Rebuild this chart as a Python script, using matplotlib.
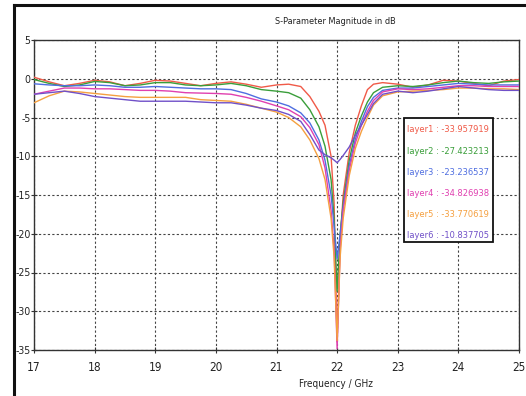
import matplotlib
matplotlib.use("Agg")
import matplotlib.pyplot as plt
from matplotlib.patches import Rectangle
from matplotlib.lines import Line2D

freq = [17.0, 17.25, 17.5, 17.75, 18.0, 18.25, 18.5, 18.75, 19.0, 19.25, 19.5, 19.75,
        20.0, 20.25, 20.5, 20.75, 21.0, 21.2, 21.4, 21.55, 21.7, 21.8, 21.9, 21.95,
        22.0, 22.05, 22.1, 22.2, 22.3, 22.4, 22.5, 22.6, 22.75, 23.0, 23.25, 23.5,
        23.75, 24.0, 24.25, 24.5, 24.75, 25.0]

layer1 = [0.2, -0.4, -0.9, -0.6, -0.2, -0.4, -0.9, -0.6, -0.2, -0.3, -0.6, -0.9,
          -0.6, -0.4, -0.7, -1.1, -0.8, -0.7, -1.0, -2.3, -4.2, -6.0, -10.0, -16.0,
          -33.957919, -21.0, -15.0, -9.5, -6.0, -3.5, -1.4, -0.7, -0.5, -0.7, -1.1, -0.8,
          -0.2, -0.3, -0.6, -0.9, -0.3, -0.1]
layer2 = [-0.1, -0.6, -1.0, -0.8, -0.35, -0.5, -0.9, -0.8, -0.5, -0.5, -0.8, -0.9,
          -0.8, -0.6, -0.9, -1.4, -1.6, -1.8, -2.5, -4.0, -6.2, -8.7, -13.0, -18.0,
          -27.423213, -20.0, -16.0, -10.5, -7.0, -4.8, -3.0, -1.8, -1.1, -0.9, -1.0, -0.8,
          -0.5, -0.3, -0.5, -0.6, -0.4, -0.3]
layer3 = [-0.65, -0.8, -0.9, -0.9, -0.8, -0.9, -1.1, -1.1, -1.0, -1.1, -1.2, -1.3,
          -1.3, -1.4, -1.9, -2.6, -3.0, -3.5, -4.4, -5.7, -7.9, -10.5, -15.0, -19.0,
          -23.236537, -20.0, -16.5, -11.2, -7.8, -5.5, -3.6, -2.4, -1.5, -1.2, -1.2, -1.0,
          -0.8, -0.6, -0.7, -0.8, -0.8, -0.8]
layer4 = [-2.0, -1.6, -1.2, -1.2, -1.3, -1.3, -1.4, -1.5, -1.5, -1.6, -1.8, -1.85,
          -1.9, -2.0, -2.4, -2.9, -3.5, -4.0, -4.9, -6.3, -8.5, -11.5, -17.0, -22.0,
          -34.826938, -22.0, -17.0, -11.8, -8.3, -6.0, -4.2, -2.8, -1.7, -1.3, -1.4, -1.3,
          -1.1, -0.9, -0.9, -1.0, -1.0, -1.0]
layer5 = [-3.1, -2.2, -1.6, -1.7, -1.9, -2.1, -2.3, -2.4, -2.4, -2.4, -2.4, -2.7,
          -2.8, -2.9, -3.3, -3.8, -4.3, -5.0, -6.2, -7.9, -10.3, -13.0, -18.0, -23.0,
          -33.770619, -23.0, -18.0, -12.5, -9.0, -6.8, -5.0, -3.4, -2.2, -1.7, -1.6, -1.5,
          -1.4, -1.2, -1.2, -1.3, -1.3, -1.4]
layer6 = [-2.0, -1.8, -1.6, -1.9, -2.3, -2.5, -2.7, -2.9, -2.9, -2.9, -2.9, -3.0,
          -3.1, -3.1, -3.4, -3.8, -4.1, -4.6, -5.5, -7.2, -9.2, -9.8, -10.2, -10.5,
          -10.837705, -10.4, -9.9, -8.8, -7.3, -6.0, -4.6, -3.2, -2.0, -1.6, -1.8, -1.6,
          -1.3, -1.0, -1.2, -1.4, -1.5, -1.5]

names = ["layer1", "layer2", "layer3", "layer4", "layer5", "layer6"]
values_at_22 = ["-33.957919", "-27.423213", "-23.236537", "-34.826938", "-33.770619", "-10.837705"]
series = [layer1, layer2, layer3, layer4, layer5, layer6]
colors = ["#f05a48", "#3a9e3a", "#4f6ee0", "#e040b0", "#f5a040", "#7050c8"]
xticks = [17, 18, 19, 20, 21, 22, 23, 24, 25]
yticks = [5, 0, -5, -10, -15, -20, -25, -30, -35]

plt.rcParams["font.family"] = ["DejaVu Sans"]
plt.rcParams["font.stretch"] = "condensed"

W, H = 526, 396
fig = plt.figure(figsize=(W / 100, H / 100), dpi=100)
fig.patch.set_facecolor("white")

def fx(px):
    return px / W

def fy(py):
    return 1 - py / H

ax = fig.add_axes([fx(34), fy(350), fx(519) - fx(34), fy(40) - fy(350)])
for s, c in zip(series, colors):
    ax.plot(freq, s, color=c, lw=1.0, zorder=3)

ax.set_xlim(17, 25)
ax.set_ylim(-35, 5)
ax.set_xticks(xticks)
ax.set_yticks(yticks)
ax.set_xticklabels([str(t) for t in xticks], fontsize=8.5, color="#222222")
ax.set_yticklabels([str(t) for t in yticks], fontsize=7.6, color="#222222")
ax.tick_params(axis="both", length=4, width=0.8, color="#333333", direction="inout")
ax.tick_params(axis="y", pad=0.3)
ax.tick_params(axis="x", pad=6)
ax.grid(True, color="#444444", linestyle=(0, (2, 2)), lw=0.8)
for sp in ax.spines.values():
    sp.set_color("#333333")
    sp.set_linewidth(1.0)

fig.text(fx(336), fy(384), "Frequency / GHz", fontsize=7.2, color="#222222",
         ha="center", va="center")
fig.text(fx(335), fy(22), "S-Parameter Magnitude in dB", fontsize=6.6,
         ha="center", va="center", color="#222222")

# outer frame
fig.add_artist(Line2D([fx(14), fx(14)], [fy(5), fy(396)], color="#111111", lw=2.2, zorder=-1))
fig.add_artist(Line2D([fx(14), fx(526)], [fy(5), fy(5)], color="#111111", lw=2.2, zorder=-1))

# marker value box
fig.add_artist(Rectangle((fx(404), fy(242)), fx(493) - fx(404), fy(118) - fy(242),
                         facecolor="white", edgecolor="#111111", lw=1.3, zorder=5))
for i, (n, v, c) in enumerate(zip(names, values_at_22, colors)):
    fig.text(fx(407), fy(130 + i * 21.2), f"{n} : {v}", fontsize=6.7,
             color=c, ha="left", va="center", zorder=6)

fig.savefig("out.png", dpi=100, facecolor="white")
